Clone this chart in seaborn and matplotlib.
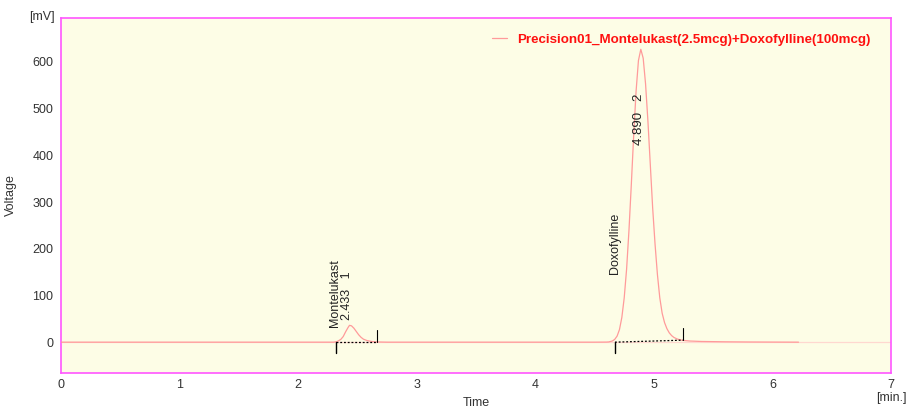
import matplotlib
matplotlib.use("Agg")
import matplotlib.pyplot as plt
import seaborn as sns
import pandas as pd

# ---- data ----
time_min = [0.00, 0.50, 1.00, 1.50, 2.00, 2.30, 2.33, 2.36, 2.38, 2.40, 2.42, 2.433,
            2.45, 2.47, 2.49, 2.51, 2.53, 2.55, 2.58, 2.62, 2.66, 2.75, 3.00, 3.50,
            4.00, 4.50, 4.60, 4.62, 4.65, 4.67, 4.69, 4.71, 4.73, 4.75, 4.77, 4.79,
            4.81, 4.83, 4.85, 4.87, 4.89, 4.91, 4.93, 4.95, 4.97, 4.99, 5.01, 5.03,
            5.05, 5.07, 5.09, 5.11, 5.13, 5.15, 5.17, 5.20, 5.24, 5.30, 5.40, 5.60,
            5.80, 6.00, 6.22]
voltage_mv = [0.0, 0.0, 0.0, 0.0, 0.0, 0.0, 1.5, 6.0, 12.0, 22.0, 31.0, 36.0,
              35.0, 30.0, 23.0, 16.0, 10.5, 6.5, 3.5, 1.5, 0.5, 0.0, 0.0, 0.0,
              0.0, 0.0, 0.2, 0.5, 2.5, 6.0, 13.0, 27.0, 53.0, 95.0, 156.0, 239.0,
              338.0, 443.0, 537.0, 603.0, 627.0, 608.0, 553.0, 473.0, 380.0, 287.0, 210.0, 145.0,
              95.0, 62.0, 42.0, 29.0, 20.0, 14.0, 10.0, 6.5, 4.0, 2.5, 1.5, 0.8,
              0.4, 0.2, 0.0]

peak_names = ["Montelukast", "Doxofylline"]
peak_rt = [2.433, 4.890]
peak_no = [1, 2]
peak_start = [2.319, 4.672]
peak_end = [2.665, 5.244]
peak_end_level = [0.0, 4.3]
legend_label = "Precision01_Montelukast(2.5mcg)+Doxofylline(100mcg)"

df = pd.DataFrame({"Time": time_min, "Voltage": voltage_mv})

sns.set_style("white")
plt.rcParams["font.family"] = ["Liberation Sans", "DejaVu Sans"]

spine_c = "#ff55ff"
trace_c = "#ff9a9a"
text_c = "#333333"

fig = plt.figure(figsize=(9.09, 4.09), dpi=100)
ax = fig.add_axes([61 / 909, 36 / 409, 830 / 909, 355 / 409])
ax.set_facecolor("#fdfde6")

ax.axhline(0, color="#ffd8d0", lw=0.9, zorder=1)
sns.lineplot(data=df, x="Time", y="Voltage", ax=ax, color=trace_c, lw=0.9,
             label=legend_label, zorder=3)

# baselines and peak marks
for i in range(len(peak_names)):
    ax.plot([peak_start[i], peak_end[i]], [0, peak_end_level[i]], color="black",
            lw=0.9, ls=(0, (1.5, 1.5)), zorder=4)
    ax.plot([peak_start[i], peak_start[i]], [0, -23], color="black", lw=1.0, zorder=4)
    ax.plot([peak_end[i], peak_end[i]], [peak_end_level[i], peak_end_level[i] + 26],
            color="black", lw=0.8, zorder=4)

# peak labels
ax.text(2.31, 32, peak_names[0], rotation=90, ha="center", va="bottom",
        fontsize=9, color="#222222")
ax.text(2.415, 47, f"{peak_rt[0]:.3f}   {peak_no[0]}", rotation=90, ha="center",
        va="bottom", fontsize=9, color="#222222")
ax.text(4.672, 145, peak_names[1], rotation=90, ha="center", va="bottom",
        fontsize=9, color="#222222")
ax.text(4.872, 423, f"{peak_rt[1]:.3f}   {peak_no[1]}", rotation=90, ha="center",
        va="bottom", fontsize=9.5, color="#222222")

ax.set_xlim(0, 7)
ax.set_ylim(-66, 694)
ax.set_xticks(range(0, 8))
ax.set_yticks(range(0, 700, 100))
ax.tick_params(axis="both", which="both", direction="out", length=3.5, width=1,
               color=spine_c, labelsize=9, labelcolor=text_c, pad=2)
ax.tick_params(axis="x", pad=1)
for s in ax.spines.values():
    s.set_color(spine_c)
    s.set_linewidth(1.2)

ax.set_xlabel("Time", fontsize=9, color=text_c)
ax.set_ylabel("Voltage", fontsize=9, color=text_c)
ax.xaxis.set_label_coords(0.5, -0.068)
ax.yaxis.set_label_coords(-0.053, 0.5)
fig.text(42 / 909, 1 - 17 / 409, "[mV]", ha="center", va="center", fontsize=9, color=text_c)
fig.text(891 / 909, 1 - 398 / 409, "[min.]", ha="center", va="center", fontsize=9, color=text_c)

leg = ax.legend(loc="upper right", frameon=False, fontsize=9.6, handlelength=1.1,
                handletextpad=0.8, borderaxespad=0.5, bbox_to_anchor=(0.99, 0.99))
for t in leg.get_texts():
    t.set_color("#ff1010")
    t.set_fontweight("bold")

fig.savefig("out.png", dpi=100)
